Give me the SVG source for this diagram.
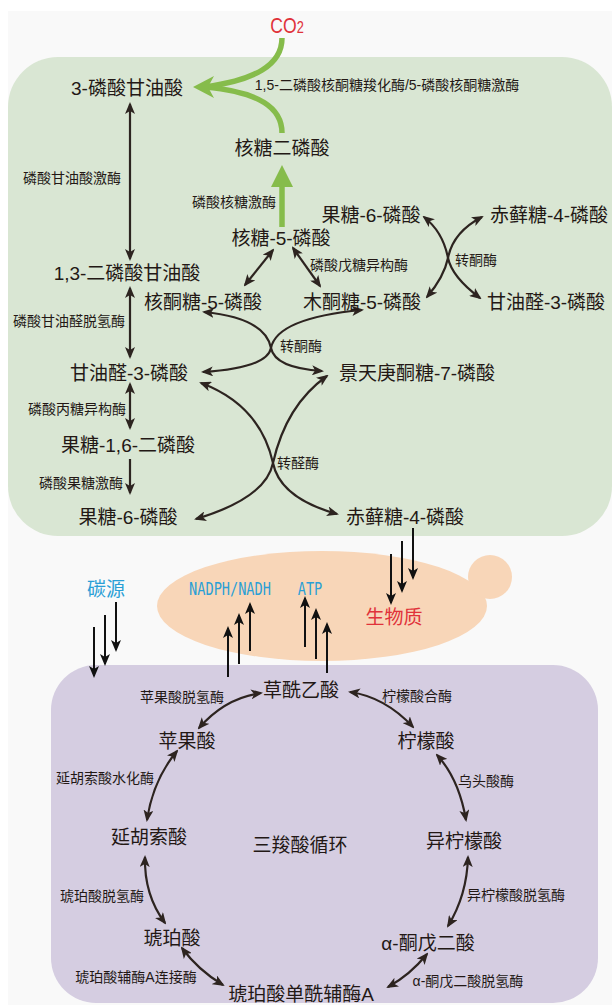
<svg xmlns="http://www.w3.org/2000/svg" width="612" height="1005" viewBox="0 0 612 1005">
<defs>
<style>
.t{font-family:"Liberation Sans","Noto Sans CJK SC",sans-serif;font-size:19px;fill:#231815;text-anchor:middle;dominant-baseline:central}
.e{font-size:14px}
.c{fill:none;stroke:#2d2420;stroke-width:2.2}
.k{fill:none;stroke:#111;stroke-width:2}
.g{fill:none;stroke:#86bc4b;stroke-width:5.5}
.mono{font-family:"DejaVu Sans Mono","Liberation Mono",monospace;font-size:17px;fill:#2a9fd6;text-anchor:middle}
</style>
<marker id="ah" viewBox="0 0 12 10" refX="10" refY="5" markerWidth="12" markerHeight="10" markerUnits="userSpaceOnUse" orient="auto-start-reverse">
<path d="M0,0 L12,5 L0,10 L3,5 z" fill="#2d2420"/>
</marker>
<marker id="ak" viewBox="0 0 12 10" refX="10" refY="5" markerWidth="12" markerHeight="10" markerUnits="userSpaceOnUse" orient="auto">
<path d="M0,0 L12,5 L0,10 L3,5 z" fill="#111"/>
</marker>
</defs>
<rect x="0" y="0" width="612" height="1005" fill="#fff"/>
<rect x="8" y="11" width="604" height="994" fill="#f9f9f9"/>
<rect id="calvin-bg" x="8" y="57" width="604" height="479" rx="50" fill="#d9e6d3"/>
<g id="cell">
<ellipse cx="322" cy="606" rx="165" ry="55" fill="#f8d6b8"/>
<circle cx="490" cy="577" r="22" fill="#f8d6b8"/>
</g>
<rect id="tca-bg" x="51" y="665" width="547" height="338" rx="45" fill="#d5cde1"/>

<g id="connectors">
<path class="g" d="M282,38 C282,65 255,80 205,87"/>
<path class="g" d="M282,133 C282,108 260,92 205,87"/>
<path d="M193,87 L214,76 L208,87 L214,98 Z" fill="#86bc4b"/>
<path class="g" d="M282,227 L282,183"/>
<path d="M282,165 L271,187 L293,187 Z" fill="#86bc4b"/>

<path class="c" d="M130,104 L130,259" marker-start="url(#ah)" marker-end="url(#ah)"/>
<path class="c" d="M130,288 L130,357" marker-start="url(#ah)" marker-end="url(#ah)"/>
<path class="c" d="M130,384 L130,428" marker-start="url(#ah)" marker-end="url(#ah)"/>
<path class="c" d="M130,459 L130,493" marker-end="url(#ah)"/>
<path class="c" d="M273,250 L245,285" marker-start="url(#ah)" marker-end="url(#ah)"/>
<path class="c" d="M293,248 L320,286" marker-start="url(#ah)" marker-end="url(#ah)"/>
<path class="c" d="M424,217 Q443,232 448,258 Q452,277 480,298" marker-start="url(#ah)" marker-end="url(#ah)"/>
<path class="c" d="M482,217 Q453,232 448,258 Q444,277 427,297" marker-start="url(#ah)" marker-end="url(#ah)"/>
<path class="c" d="M204,312 Q265,318 271,348 Q275,368 322,371" marker-start="url(#ah)" marker-end="url(#ah)"/>
<path class="c" d="M362,310 Q277,318 271,348 Q267,368 203,372" marker-start="url(#ah)" marker-end="url(#ah)"/>
<path class="c" d="M201,383 Q260,405 273,463 Q280,498 337,514" marker-start="url(#ah)" marker-end="url(#ah)"/>
<path class="c" d="M327,376 Q286,405 273,463 Q266,498 196,519" marker-start="url(#ah)" marker-end="url(#ah)"/>

<path class="k" d="M94,627 L94,676" marker-end="url(#ak)"/>
<path class="k" d="M105,615 L105,664" marker-end="url(#ak)"/>
<path class="k" d="M116,602 L116,650" marker-end="url(#ak)"/>
<path class="k" d="M391,554 L391,603" marker-end="url(#ak)"/>
<path class="k" d="M402,541 L402,591" marker-end="url(#ak)"/>
<path class="k" d="M413,528 L413,578" marker-end="url(#ak)"/>
<path class="k" d="M228,677 L228,628" marker-end="url(#ak)"/>
<path class="k" d="M239,664 L239,615" marker-end="url(#ak)"/>
<path class="k" d="M250,651 L250,604" marker-end="url(#ak)"/>
<path class="k" d="M305,647 L305,598" marker-end="url(#ak)"/>
<path class="k" d="M316,659 L316,610" marker-end="url(#ak)"/>
<path class="k" d="M327,673 L327,624" marker-end="url(#ak)"/>

<path class="c" d="M261,693 Q225,698 199,728" marker-start="url(#ah)" marker-end="url(#ah)"/>
<path class="c" d="M350,692 Q385,697 413,727" marker-start="url(#ah)" marker-end="url(#ah)"/>
<path class="c" d="M177,751 Q153,780 147,820" marker-start="url(#ah)" marker-end="url(#ah)"/>
<path class="c" d="M437,755 Q459,779 466,820" marker-start="url(#ah)" marker-end="url(#ah)"/>
<path class="c" d="M145,857 Q144,895 165,923" marker-start="url(#ah)" marker-end="url(#ah)"/>
<path class="c" d="M468,857 Q467,895 448,926" marker-start="url(#ah)" marker-end="url(#ah)"/>
<path class="c" d="M182,948 Q198,970 223,985" marker-start="url(#ah)" marker-end="url(#ah)"/>
<path class="c" d="M427,954 Q410,975 388,987" marker-start="url(#ah)" marker-end="url(#ah)"/>
</g>

<g id="co2"><text transform="translate(287,33) scale(0.8,1)" x="0" y="0" style="font-family:'Liberation Sans',sans-serif;fill:#e0323a;font-size:22px;text-anchor:middle">CO<tspan style="font-size:16px">2</tspan></text></g>
<g id="pga3"><text class="t" x="127" y="88">3-磷酸甘油酸</text></g>
<g id="rubisco"><text class="t e" x="387" y="85">1,5-二磷酸核酮糖羧化酶/5-磷酸核酮糖激酶</text></g>
<g id="rubp"><text class="t" x="282" y="148">核糖二磷酸</text></g>
<g id="pgk"><text class="t e" x="72" y="178">磷酸甘油酸激酶</text></g>
<g id="prk"><text class="t e" x="234" y="202">磷酸核糖激酶</text></g>
<g id="r5p"><text class="t" x="281" y="238">核糖-5-磷酸</text></g>
<g id="f6p-r"><text class="t" x="371" y="215">果糖-6-磷酸</text></g>
<g id="e4p-r"><text class="t" x="549" y="215">赤藓糖-4-磷酸</text></g>
<g id="tk1"><text class="t e" x="476" y="260">转酮酶</text></g>
<g id="bpg"><text class="t" x="127" y="273">1,3-二磷酸甘油酸</text></g>
<g id="rpi"><text class="t e" x="359" y="265">磷酸戊糖异构酶</text></g>
<g id="ru5p"><text class="t" x="203" y="302">核酮糖-5-磷酸</text></g>
<g id="xu5p"><text class="t" x="362" y="302">木酮糖-5-磷酸</text></g>
<g id="g3p-r"><text class="t" x="546" y="302">甘油醛-3-磷酸</text></g>
<g id="gapdh"><text class="t e" x="69" y="321">磷酸甘油醛脱氢酶</text></g>
<g id="tk2"><text class="t e" x="301" y="346">转酮酶</text></g>
<g id="g3p-l"><text class="t" x="129" y="373">甘油醛-3-磷酸</text></g>
<g id="s7p"><text class="t" x="417" y="373">景天庚酮糖-7-磷酸</text></g>
<g id="tpi"><text class="t e" x="77" y="409">磷酸丙糖异构酶</text></g>
<g id="fbp"><text class="t" x="128" y="445">果糖-1,6-二磷酸</text></g>
<g id="tal"><text class="t e" x="298" y="463">转醛酶</text></g>
<g id="pfk"><text class="t e" x="81" y="483">磷酸果糖激酶</text></g>
<g id="f6p-l"><text class="t" x="128" y="517">果糖-6-磷酸</text></g>
<g id="e4p-b"><text class="t" x="405" y="517">赤藓糖-4-磷酸</text></g>

<g id="carbon"><text class="t" x="106" y="589" style="fill:#2a9fd6">碳源</text></g>
<g id="cofactors">
<text class="mono" transform="translate(230,595) scale(0.8,1)" x="0" y="0">NADPH/NADH</text>
<text class="mono" transform="translate(310,595) scale(0.8,1)" x="0" y="0">ATP</text>
</g>
<g id="biomass"><text class="t" x="394" y="617" style="fill:#e0323a">生物质</text></g>

<g id="oaa"><text class="t" x="301" y="690">草酰乙酸</text></g>
<g id="mdh"><text class="t e" x="182" y="697">苹果酸脱氢酶</text></g>
<g id="cs"><text class="t e" x="417" y="696">柠檬酸合酶</text></g>
<g id="mal"><text class="t" x="187" y="741">苹果酸</text></g>
<g id="cit"><text class="t" x="426" y="741">柠檬酸</text></g>
<g id="fh"><text class="t e" x="105" y="778">延胡索酸水化酶</text></g>
<g id="aco"><text class="t e" x="486" y="781">乌头酸酶</text></g>
<g id="fum"><text class="t" x="149" y="837">延胡索酸</text></g>
<g id="tca"><text class="t" x="300" y="845">三羧酸循环</text></g>
<g id="icit"><text class="t" x="464" y="841">异柠檬酸</text></g>
<g id="sdh"><text class="t e" x="102" y="896">琥珀酸脱氢酶</text></g>
<g id="idh"><text class="t e" x="516" y="895">异柠檬酸脱氢酶</text></g>
<g id="suc"><text class="t" x="172" y="938">琥珀酸</text></g>
<g id="akg"><text class="t" x="428" y="943">α-酮戊二酸</text></g>
<g id="scs"><text class="t e" x="136" y="977">琥珀酸辅酶A连接酶</text></g>
<g id="ogdh"><text class="t e" x="468" y="981">α-酮戊二酸脱氢酶</text></g>
<g id="succoa"><text class="t" x="301" y="994">琥珀酸单酰辅酶A</text></g>
</svg>
